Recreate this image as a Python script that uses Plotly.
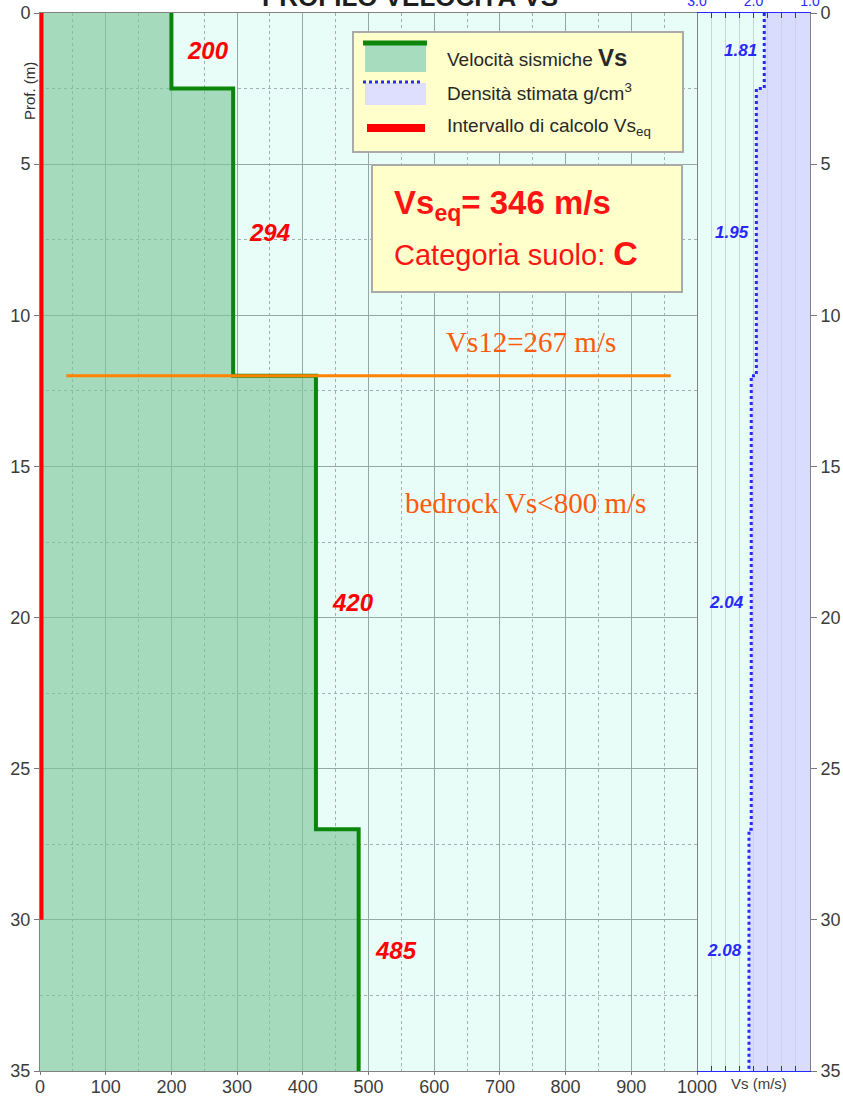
import plotly.graph_objects as go

# Seismic profile layers (depth in m)
layer_top = [0, 2.5, 12, 27]
layer_bottom = [2.5, 12, 27, 35]
vs_values = [200, 294, 420, 485]
density_values = [1.81, 1.95, 2.04, 2.08]

vs_ticks = [0, 100, 200, 300, 400, 500, 600, 700, 800, 900, 1000]
depth_ticks = [0, 5, 10, 15, 20, 25, 30, 35]
density_ticks = [3.0, 2.0, 1.0]
density_ticktext = ['3.0', '2.0', '1.0']

calc_interval = [0, 30]      # interval used for Vs_eq
vs12_depth = [12, 12]
vs12_extent = [40, 960]
vs_eq = 346
vs12 = 267
soil_category = 'C'

W, H = 843, 1099
L, R, T, B = 40, 33, 13, 28
split = (697 - L) / (W - L - R)

FONT = 'Liberation Sans, Arial, sans-serif'
SERIF = 'Liberation Serif, DejaVu Serif, serif'
GREEN = '#0a870a'
BLUE = 'rgb(40,40,255)'
ORANGE_TXT = 'rgb(255,90,10)'


def paper(xp, yp):
    """Pixel position on the page -> paper coordinates."""
    return (xp - L) / (W - L - R), 1 - (yp - T) / (H - T - B)


def step_path(values):
    xs, ys = [], []
    for top, bot, v in zip(layer_top, layer_bottom, values):
        xs += [v, v]
        ys += [top, bot]
    return xs, ys


fig = go.Figure()

# Vs profile with fill
vs_x, vs_y = step_path(vs_values)
fig.add_trace(go.Scatter(
    x=vs_x, y=vs_y, mode='lines',
    line=dict(color=GREEN, width=4),
    fill='tozerox', fillcolor='rgba(125,198,152,0.62)',
    xaxis='x', yaxis='y', hoverinfo='skip'
))

# Density profile
d_x, d_y = step_path(density_values)
fig.add_trace(go.Scatter(
    x=d_x, y=d_y, mode='lines',
    line=dict(color=BLUE, width=3, dash='dot'),
    fill='tozerox', fillcolor='rgba(212,206,255,0.72)',
    xaxis='x2', yaxis='y2', hoverinfo='skip'
))

# Vs12 line
fig.add_trace(go.Scatter(
    x=vs12_extent, y=vs12_depth, mode='lines',
    line=dict(color='rgb(255,130,0)', width=3),
    xaxis='x', yaxis='y', hoverinfo='skip'
))

# Vs_eq calculation interval
fig.add_trace(go.Scatter(
    x=[0, 0], y=calc_interval, mode='lines',
    line=dict(color='red', width=7),
    cliponaxis=False, xaxis='x', yaxis='y', hoverinfo='skip'
))

annotations = []

# layer labels
for top, bot, v in zip(layer_top, layer_bottom, vs_values):
    annotations.append(dict(
        x=v, y=(top + bot) / 2, xref='x', yref='y', text=str(v),
        showarrow=False, xanchor='left', xshift=14,
        font=dict(family=FONT, size=24, color='red', weight='bold', style='italic')
    ))
for top, bot, d in zip(layer_top, layer_bottom, density_values):
    annotations.append(dict(
        x=d, y=(top + bot) / 2, xref='x2', yref='y2', text=f'{d:.2f}',
        showarrow=False, xanchor='right', xshift=-5,
        font=dict(family=FONT, size=17, color=BLUE, weight='bold', style='italic')
    ))

# orange notes
annotations.append(dict(
    x=747, y=10.9, xref='x', yref='y', text=f'Vs12={vs12} m/s', showarrow=False,
    xanchor='center',
    font=dict(family=SERIF, size=29, color=ORANGE_TXT)
))
annotations.append(dict(
    x=739, y=16.2, xref='x', yref='y', text='bedrock Vs<800 m/s', showarrow=False,
    xanchor='center',
    font=dict(family=SERIF, size=29, color=ORANGE_TXT)
))

shapes = []

# legend box
x0, y0 = paper(353, 32)
x1, y1 = paper(683, 152)
shapes.append(dict(type='rect', xref='paper', yref='paper', x0=x0, y0=y0, x1=x1, y1=y1,
                   fillcolor='rgb(255,255,204)', line=dict(color='rgb(170,170,170)', width=2)))
x0, y0 = paper(365, 45)
x1, y1 = paper(426, 72)
shapes.append(dict(type='rect', xref='paper', yref='paper', x0=x0, y0=y0, x1=x1, y1=y1,
                   fillcolor='rgb(168,220,190)', line=dict(width=0)))
x0, y0 = paper(363, 43)
x1, _ = paper(427, 43)
shapes.append(dict(type='line', xref='paper', yref='paper', x0=x0, y0=y0, x1=x1, y1=y0,
                   line=dict(color=GREEN, width=5)))
x0, y0 = paper(365, 83)
x1, y1 = paper(426, 105)
shapes.append(dict(type='rect', xref='paper', yref='paper', x0=x0, y0=y0, x1=x1, y1=y1,
                   fillcolor='rgb(222,222,255)', line=dict(width=0)))
x0, y0 = paper(363, 82)
x1, _ = paper(422, 82)
shapes.append(dict(type='line', xref='paper', yref='paper', x0=x0, y0=y0, x1=x1, y1=y0,
                   line=dict(color=BLUE, width=3, dash='dot')))
x0, y0 = paper(367, 128)
x1, _ = paper(425, 128)
shapes.append(dict(type='line', xref='paper', yref='paper', x0=x0, y0=y0, x1=x1, y1=y0,
                   line=dict(color='red', width=8)))

legend_texts = [
    ('Velocità sismiche <b><span style="font-size:24px">Vs</span></b>', 58),
    ('Densità stimata g/cm<sup>3</sup>', 92),
    ('Intervallo di calcolo Vs<sub>eq</sub>', 127),
]
for txt, yp in legend_texts:
    xp, yy = paper(445, yp)
    annotations.append(dict(x=xp, y=yy, xref='paper', yref='paper', text=txt,
                            showarrow=False, xanchor='left', yanchor='middle',
                            font=dict(family=FONT, size=19, color='rgb(40,40,40)')))

# Vs_eq box
x0, y0 = paper(372, 165)
x1, y1 = paper(682, 292)
shapes.append(dict(type='rect', xref='paper', yref='paper', x0=x0, y0=y0, x1=x1, y1=y1,
                   fillcolor='rgb(255,255,204)', line=dict(color='rgb(170,170,170)', width=2)))
xp, yy = paper(392, 205)
annotations.append(dict(x=xp, y=yy, xref='paper', yref='paper',
                        text=f'<b>Vs<sub>eq</sub>= {vs_eq} m/s</b>', showarrow=False,
                        xanchor='left', yanchor='middle',
                        font=dict(family=FONT, size=33, color='rgb(255,20,20)')))
xp, yy = paper(392, 253)
annotations.append(dict(x=xp, y=yy, xref='paper', yref='paper',
                        text=f'Categoria suolo: <b><span style="font-size:34px">{soil_category}</span></b>',
                        showarrow=False, xanchor='left', yanchor='middle',
                        font=dict(family=FONT, size=29, color='rgb(255,20,20)')))

# title (cut at top like the original)
annotations.append(dict(x=paper(410, 0)[0], y=1, xref='paper', yref='paper',
                        text='<b>PROFILO VELOCITÀ VS</b>', showarrow=False,
                        xanchor='center', yanchor='middle', yshift=16,
                        font=dict(family=FONT, size=26, color='rgb(30,30,30)')))

# axis titles
annotations.append(dict(x=0, y=2.6, xref='paper', yref='y', text='Prof. (m)',
                        showarrow=False, textangle=-90, xshift=-21,
                        font=dict(family=FONT, size=15, color='rgb(50,50,50)')))
annotations.append(dict(x=paper(759, 0)[0], y=0, xref='paper', yref='paper',
                        text='Vs (m/s)', showarrow=False,
                        xanchor='center', yanchor='top', yshift=-2,
                        font=dict(family=FONT, size=15, color='rgb(60,60,60)')))

tickfont = dict(family=FONT, size=18, color='rgb(60,60,60)')
major = 'rgb(150,168,164)'
minor = 'rgb(165,175,175)'

fig.update_layout(
    width=W, height=H,
    margin=dict(l=L, r=R, t=T, b=B),
    paper_bgcolor='white',
    plot_bgcolor='rgb(232,253,247)',
    showlegend=False,
    shapes=shapes,
    annotations=annotations,
    xaxis=dict(
        domain=[0, split], range=[0, 1000], anchor='y', automargin=False,
        tickvals=vs_ticks, tickfont=tickfont,
        ticks='outside', ticklen=3, tickcolor='rgb(120,120,120)',
        ticklabelstandoff=-4,
        showgrid=True, gridcolor=major, gridwidth=1,
        minor=dict(dtick=50, showgrid=True, gridcolor=minor, griddash='dot'),
        showline=True, linecolor='rgb(130,130,130)', linewidth=1, mirror=True,
        zeroline=False
    ),
    yaxis=dict(
        range=[35, 0], anchor='x', automargin=False,
        tickvals=depth_ticks, tickfont=tickfont,
        ticks='outside', ticklen=5, tickcolor='rgb(120,120,120)',
        showgrid=True, gridcolor=major, gridwidth=1,
        minor=dict(dtick=2.5, showgrid=True, gridcolor=minor, griddash='dot'),
        showline=True, linecolor='rgb(130,130,130)', linewidth=1, mirror=True,
        zeroline=False
    ),
    xaxis2=dict(
        domain=[split, 1], range=[3, 1], anchor='y2', side='top', automargin=False,
        tickvals=density_ticks, ticktext=density_ticktext,
        tickfont=dict(family=FONT, size=14, color=BLUE),
        ticks='inside', ticklen=5, tickcolor=BLUE,
        showgrid=True, gridcolor='rgb(195,215,212)',
        minor=dict(dtick=0.25, ticks='inside', ticklen=5, tickcolor=BLUE,
                   showgrid=True, gridcolor='rgb(195,215,212)'),
        showline=True, linecolor=BLUE, linewidth=1, mirror='ticks',
        zeroline=False
    ),
    yaxis2=dict(
        range=[35, 0], anchor='x2', side='right', automargin=False,
        tickvals=depth_ticks, tickfont=tickfont,
        ticks='outside', ticklen=6, tickcolor='rgb(120,120,120)',
        showgrid=False,
        showline=True, linecolor='rgb(130,130,130)', linewidth=1,
        zeroline=False
    ),
)

fig.write_html("out.html", config={'displayModeBar': False},
               post_script="document.body.style.margin='0';")
